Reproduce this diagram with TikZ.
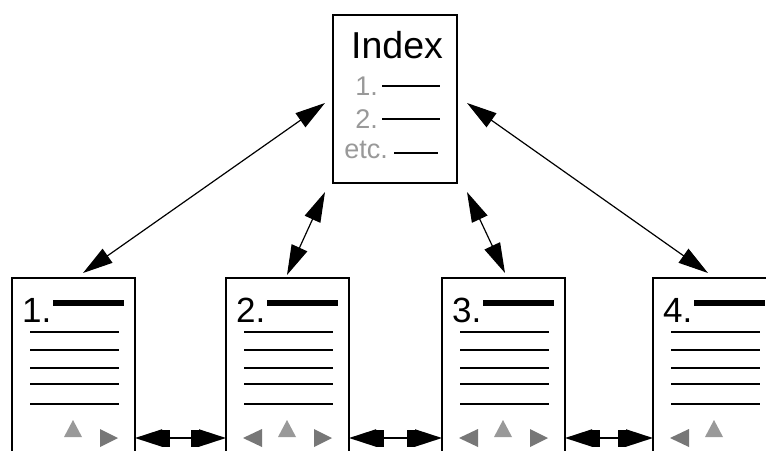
\documentclass[tikz,border=0pt]{standalone}
\usepackage{fontspec}
\setmainfont{Liberation Sans}
\usetikzlibrary{arrows.meta,calc}
\definecolor{lightg}{HTML}{999999}
\definecolor{darkg}{HTML}{777777}
\begin{document}
\begin{tikzpicture}[x=1pt,y=-1pt,
  frame/.style={draw=black, line width=1.5pt, fill=white, inner sep=0pt, outer sep=0pt, anchor=north west},
  pagebox/.style={frame, minimum width=123pt, minimum height=200pt},
  pnum/.style={font=\fontsize{35}{38}\selectfont, anchor=base west, inner sep=0pt},
  gtxt/.style={font=\fontsize{27}{30}\selectfont, text=lightg, anchor=base east, inner sep=0pt},
  thickbar/.style={line width=6pt},
  textline/.style={line width=1.6pt},
  idxline/.style={line width=1.5pt},
  uptri/.style={fill=lightg},
  sidetri/.style={fill=darkg},
  dbl/.style={{Triangle[length=30pt,width=17pt]}-{Triangle[length=30pt,width=17pt]}, line width=1.2pt},
  hdbl/.style={{Triangle[length=27pt,width=17pt,sep=0pt] Rectangle[length=8pt,width=17pt,sep=0pt]}-{Rectangle[length=8pt,width=17pt,sep=0pt] Triangle[length=27pt,width=17pt,sep=0pt]}, line width=2pt}]
\useasboundingbox (0,0) rectangle (766,450);
\fill[white] (0,0) rectangle (766,450);
\clip (0,0) rectangle (766,450);

% index box
\node[frame, minimum width=124pt, minimum height=168pt] (idx) at (333,15) {};
\node[font=\fontsize{37.5}{40}\selectfont, anchor=base west, inner sep=0pt] (title) at (351,58) {Index};
\node[gtxt] (i1) at (378,95) {1.};
\node[gtxt] (i2) at (378,128) {2.};
\node[gtxt] (i3) at (388,158) {etc.};
\draw[idxline] (382,86) -- (440,86);
\draw[idxline] (382,119) -- (440,119);
\draw[idxline] (394,153) -- (438,153);

% pages
\foreach \i/\x in {1/12,2/226,3/442,4/653} {
  \node[pagebox] (p\i) at (\x,278) {};
  \node[pnum] (n\i) at (\x+10,322) {\i.};
  \draw[thickbar] (\x+41,303) -- (\x+112,303);
  \foreach \yy in {332,350,368,384,404}
    \draw[textline] (\x+18,\yy) -- (\x+107,\yy);
  \fill[uptri] (\x+52,437) -- (\x+61,420) -- (\x+70,437) -- cycle;
}
% side triangles
\foreach \x in {226,442,653}
  \fill[sidetri] (\x+17,438) -- (\x+36,429) -- (\x+36,447) -- cycle;
\foreach \x in {12,226,442}
  \fill[sidetri] (\x+106,438) -- (\x+88,429) -- (\x+88,447) -- cycle;

% diagonal connectors
\coordinate (a1) at ($(idx.north west)+(-8,88)$);
\coordinate (b1) at ($(p1.north west)+(71,-5)$);
\coordinate (a2) at ($(idx.south west)+(-8,9)$);
\coordinate (b2) at ($(p2.north west)+(61,-3)$);
\coordinate (a3) at ($(idx.south east)+(10,9)$);
\coordinate (b3) at ($(p3.north west)+(63,-5)$);
\coordinate (a4) at ($(idx.north east)+(10,88)$);
\coordinate (b4) at ($(p4.north west)+(55,-5)$);
\draw[dbl] (a1) -- (b1);
\draw[dbl] (a2) -- (b2);
\draw[dbl] (a3) -- (b3);
\draw[dbl] (a4) -- (b4);

% horizontal connectors
\draw[hdbl] ($(p1.north east)+(0,160)$) -- ($(p2.north west)+(0,160)$);
\draw[hdbl] ($(p2.north east)+(0,160)$) -- ($(p3.north west)+(0,160)$);
\draw[hdbl] ($(p3.north east)+(0,160)$) -- ($(p4.north west)+(0,160)$);
\end{tikzpicture}
\end{document}
